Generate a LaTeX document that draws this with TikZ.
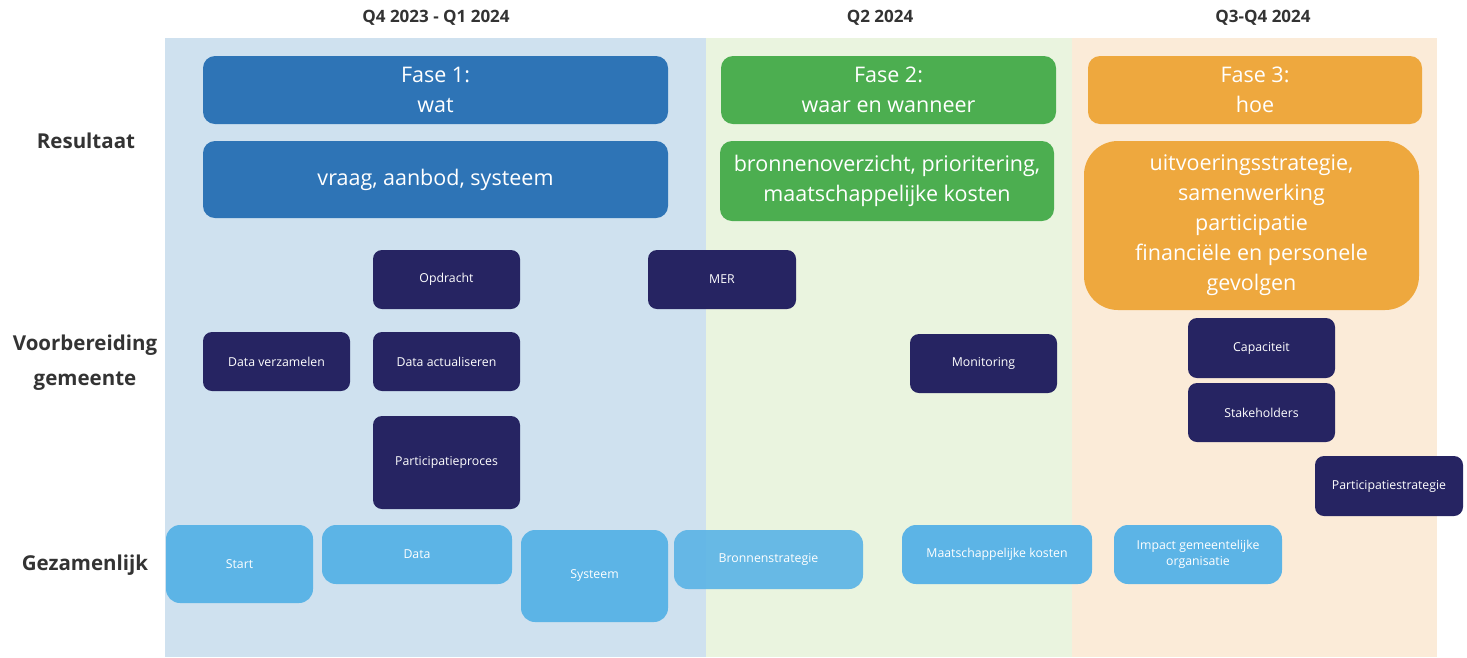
\documentclass[tikz,border=0pt]{standalone}
\usepackage{fontspec}
\setmainfont{Open Sans}
\definecolor{paneA}{RGB}{207,225,239}
\definecolor{paneB}{RGB}{234,244,223}
\definecolor{paneC}{RGB}{251,235,216}
\definecolor{faseA}{RGB}{46,116,182}
\definecolor{faseB}{RGB}{76,174,80}
\definecolor{faseC}{RGB}{238,168,62}
\definecolor{navy}{RGB}{38,36,98}
\definecolor{sky}{RGB}{92,180,230}
\definecolor{label}{RGB}{51,51,51}
\begin{document}
\begin{tikzpicture}[x=1pt,y=-1pt,
    header/.style={font=\fontsize{17}{20}\selectfont\bfseries,text=label},
    rowlabel/.style={font=\fontsize{20.5}{35}\selectfont\bfseries,text=label,align=center},
    fase/.style={rounded corners=12pt,text=white,inner sep=0pt,align=center,
        font=\fontsize{21.5}{30}\selectfont},
    taak/.style={fill=navy,rounded corners=9pt,text=white,inner sep=0pt,
        minimum width=147,minimum height=59,font=\fontsize{12.3}{14}\selectfont},
    samen/.style={fill=sky,rounded corners=14pt,text=white,inner sep=0pt,align=center,
        minimum height=59,font=\fontsize{12.3}{16}\selectfont}]
    \useasboundingbox (0,0) rectangle (1467,657);
    \foreach \l/\r/\c in {165/706/paneA,706/1072/paneB,1072/1437/paneC}
        \fill[\c] (\l,38) rectangle (\r,657);
    \node[header] (hdrA) at (436,18) {Q4 2023 - Q1 2024};
    \node[header] (hdrB) at (880,18) {Q2 2024};
    \node[header] (hdrC) at (1263,18) {Q3-Q4 2024};
    \node[rowlabel] (resultaat) at (86,141) {Resultaat};
    \node[rowlabel] (voorbereiding) at (85,363) {Voorbereiding\\gemeente};
    \node[rowlabel] (gezamenlijk) at (85,565) {Gezamenlijk};
    \node[fase,fill=faseA,minimum width=465,minimum height=68] (fase1) at (435.5,90) {Fase 1:\\wat};
    \node[fase,fill=faseA,minimum width=465,minimum height=77] (wat) at (435.5,179.5) {vraag, aanbod, systeem};
    \node[fase,fill=faseB,minimum width=335,minimum height=68] (fase2) at (888.5,90) {Fase 2:\\waar en wanneer};
    \node[fase,fill=faseB,minimum width=334,minimum height=80] (waar) at (887,181) {bronnenoverzicht, prioritering,\\maatschappelijke kosten};
    \node[fase,fill=faseC,minimum width=334,minimum height=68] (fase3) at (1255,90) {Fase 3:\\hoe};
    \node[fase,fill=faseC,rounded corners=34pt,minimum width=335,minimum height=169] (hoe) at (1251.5,225.5)
        {uitvoeringsstrategie,\\samenwerking\\participatie\\financiële en personele\\gevolgen};
    \node[taak] (opdracht) at (446.5,279.5) {Opdracht};
    \node[taak,minimum width=148] (mer) at (722,279.5) {MER};
    \node[taak] (verzamelen) at (276.5,361.5) {Data verzamelen};
    \node[taak] (actualiseren) at (446.5,361.5) {Data actualiseren};
    \node[taak,minimum height=93] (proces) at (446.5,462.5) {Participatieproces};
    \node[taak] (monitoring) at (983.5,363.5) {Monitoring};
    \node[taak,minimum height=60] (capaciteit) at (1261.5,348) {Capaciteit};
    \node[taak] (stakeholders) at (1261.5,412.5) {Stakeholders};
    \node[taak,minimum width=148,minimum height=60] (strategie) at (1389,486) {Participatiestrategie};
    \node[samen,minimum width=147,minimum height=78] (start) at (239.5,564) {Start};
    \node[samen,minimum width=190] (data) at (417,554.5) {Data};
    \node[samen,minimum width=147,minimum height=92] (systeem) at (594.5,576) {Systeem};
    \node[samen,minimum width=189,fill opacity=0.92,text opacity=1] (bronnen) at (768.5,559.5) {Bronnenstrategie};
    \node[samen,minimum width=190] (kosten) at (997,554.5) {Maatschappelijke kosten};
    \node[samen,minimum width=168] (impact) at (1198,554.5) {Impact gemeentelijke\\organisatie};
\end{tikzpicture}
\end{document}
